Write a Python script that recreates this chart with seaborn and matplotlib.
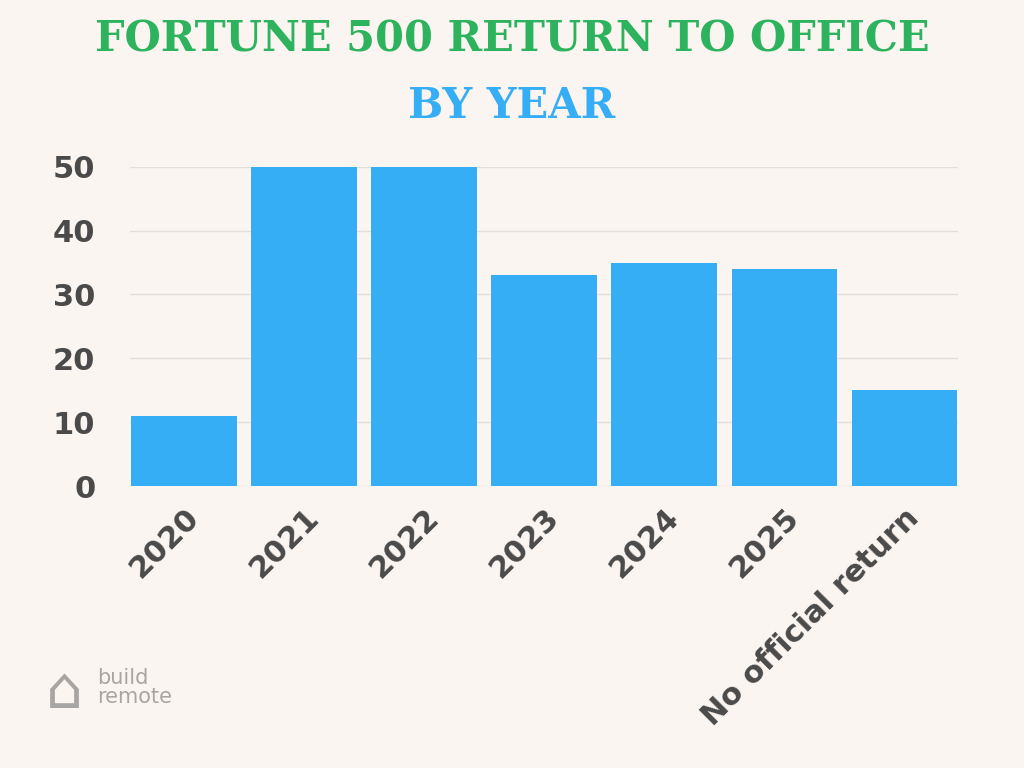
import matplotlib
matplotlib.use("Agg")
import matplotlib.pyplot as plt
import seaborn as sns
import pandas as pd

categories = ["2020", "2021", "2022", "2023", "2024", "2025", "No official return"]
companies = [11, 50, 50, 33, 35, 34, 15]

bg = "#FBF5F2"
blue = "#36AEF5"
green = "#2DB35D"
grey = "#4A4A4A"

sns.set_style("white")
plt.rcParams["font.family"] = ["DejaVu Sans"]

data = pd.DataFrame({"year": categories, "count": companies})

fig = plt.figure(figsize=(10.24, 7.68), dpi=100, facecolor=bg)
ax = fig.add_axes([0.127, 0.367, 0.809, 0.416])
ax.set_facecolor(bg)
sns.barplot(data, x="year", y="count", color=blue, width=0.88, saturation=1,
            linewidth=0, ax=ax, zorder=3)

ax.set_ylim(0, 50)
ax.set_yticks([0, 10, 20, 30, 40, 50])
ax.yaxis.grid(True, color="#E2DEDB", linewidth=1, zorder=0)
ax.set_xlim(-0.45, 6.45)
for s in ax.spines.values():
    s.set_visible(False)
ax.tick_params(length=0)
ax.set_xlabel("")
ax.set_ylabel("")
plt.setp(ax.get_yticklabels(), fontsize=22, fontweight="bold", color=grey)
ax.tick_params(axis="y", pad=25)
plt.setp(ax.get_xticklabels(), fontsize=22, fontweight="bold", color=grey,
         rotation=45, ha="right", rotation_mode="anchor")
ax.tick_params(axis="x", pad=12)

fig.text(0.5, 0.948, "FORTUNE 500 RETURN TO OFFICE", ha="center", va="center",
         fontsize=30, fontweight="heavy", family="DejaVu Serif", color=green)
fig.text(0.5, 0.862, "BY YEAR", ha="center", va="center",
         fontsize=30, fontweight="heavy", family="DejaVu Serif", color=blue)

fig.text(0.095, 0.105, "build\nremote", ha="left", va="center", fontsize=15,
         color="#A8A6A5", linespacing=0.9)
fig.text(0.063, 0.1, "⌂", ha="center", va="center", fontsize=42, color="#A8A6A5")

fig.savefig("out.png", dpi=100, facecolor=bg)
